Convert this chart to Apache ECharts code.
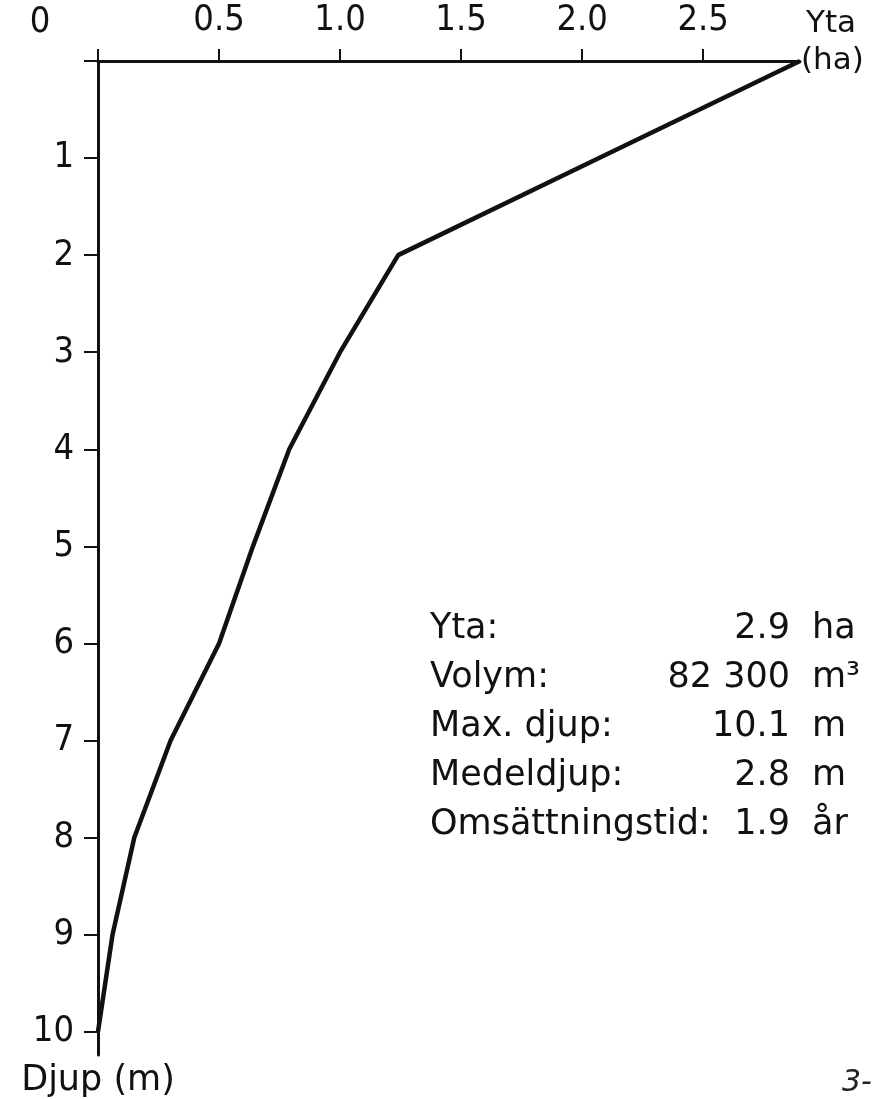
<!DOCTYPE html>
<html>
<head>
<meta charset="utf-8">
<script src="https://cdn.jsdelivr.net/npm/echarts@6/dist/echarts.min.js"></script>
<style>
html,body{margin:0;padding:0;background:#fff;}
#chart{width:895px;height:1099px;}
</style>
</head>
<body>
<div id="chart"></div>
<script>
// Hypsographic curve: area (ha) at each depth (m)
var depths = [0, 1, 2, 3, 4, 5, 6, 7, 8, 9, 10];
var areaHa = [2.9, 2.07, 1.24, 1.0, 0.79, 0.64, 0.50, 0.30, 0.15, 0.06, 0];
var xTickValues = [0, 0.5, 1.0, 1.5, 2.0, 2.5];
var xTickLabels = ['0.5', '1.0', '1.5', '2.0', '2.5'];
var yTickValues = [0, 1, 2, 3, 4, 5, 6, 7, 8, 9, 10];
var statLabels = ['Yta:', 'Volym:', 'Max. djup:', 'Medeldjup:', 'Omsättningstid:'];
var statValues = ['2.9', '82 300', '10.1', '2.8', '1.9'];
var statUnits = ['ha', 'm³', 'm', 'm', 'år'];

var axisFont = '"Liberation Sans Narrow", "DejaVu Sans Condensed", sans-serif';
var textFont = '"DejaVu Sans", sans-serif';

var chart = echarts.init(document.getElementById('chart'), null, {renderer: 'canvas'});

var graphics = [
  {type: 'text', x: 40, y: 23, style: {text: '0', font: '36px ' + axisFont, fill: '#111', textAlign: 'center', textVerticalAlign: 'middle'}},
  {type: 'text', x: 806, y: 24, style: {text: 'Yta', font: '31px ' + textFont, fill: '#111', textAlign: 'left', textVerticalAlign: 'middle'}},
  {type: 'text', left: 842, top: 1068, style: {text: '3-', font: 'italic 30px ' + textFont, fill: '#222'}}
];
for (var i = 0; i < statLabels.length; i++) {
  var cy = 629 + 49 * i;
  graphics.push({type: 'text', x: 430, y: cy, style: {text: statLabels[i], font: '35px ' + textFont, fill: '#111', textAlign: 'left', textVerticalAlign: 'middle'}});
  graphics.push({type: 'text', x: 790, y: cy, style: {text: statValues[i], font: '35px ' + textFont, fill: '#111', textAlign: 'right', textVerticalAlign: 'middle'}});
  graphics.push({type: 'text', x: 812, y: cy, style: {text: statUnits[i], font: '35px ' + textFont, fill: '#111', textAlign: 'left', textVerticalAlign: 'middle'}});
}

var option = {
  backgroundColor: '#ffffff',
  animation: false,
  grid: {left: 98, right: 95, top: 61, bottom: 44, outerBoundsMode: 'none', containLabel: false},
  xAxis: {
    type: 'value',
    position: 'top',
    min: 0,
    max: 2.9,
    interval: 0.5,
    splitLine: {show: false},
    axisLine: {show: true, lineStyle: {color: '#111', width: 3}},
    axisTick: {show: true, inside: false, length: 12, lineStyle: {color: '#111', width: 2}, customValues: xTickValues},
    axisLabel: {
      show: true, margin: 22, color: '#111', fontSize: 36, fontFamily: axisFont,
      customValues: [0.5, 1.0, 1.5, 2.0, 2.5],
      formatter: function (v) { return xTickLabels[Math.round(v / 0.5) - 1]; }
    },
    name: '(ha)',
    nameLocation: 'end',
    nameGap: 1,
    nameTextStyle: {fontFamily: textFont, fontSize: 31, color: '#111', align: 'left', verticalAlign: 'middle'}
  },
  yAxis: {
    type: 'value',
    inverse: true,
    min: 0,
    max: 10.24,
    interval: 1,
    splitLine: {show: false},
    axisLine: {show: true, lineStyle: {color: '#111', width: 3}},
    axisTick: {show: true, inside: false, length: 14, lineStyle: {color: '#111', width: 2}, customValues: yTickValues},
    axisLabel: {
      show: true, margin: 24, color: '#111', fontSize: 36, fontFamily: axisFont,
      customValues: [1, 2, 3, 4, 5, 6, 7, 8, 9, 10]
    },
    name: 'Djup (m)',
    nameLocation: 'end',
    nameGap: 8,
    nameTextStyle: {fontFamily: textFont, fontSize: 35, color: '#111'}
  },
  series: [{
    type: 'line',
    data: depths.map(function (d, k) { return [areaHa[k], d]; }),
    symbol: 'none',
    lineStyle: {color: '#111', width: 4.5},
    clip: false
  }],
  graphic: graphics
};
chart.setOption(option);
</script>
</body>
</html>
